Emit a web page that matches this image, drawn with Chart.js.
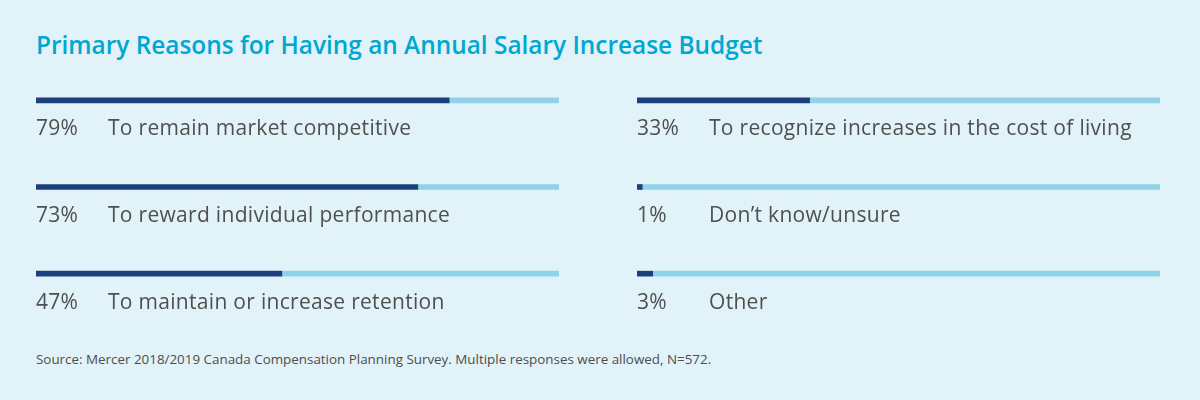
<!DOCTYPE html>
<html>
<head>
<meta charset="utf-8">
<script src="https://cdn.jsdelivr.net/npm/chart.js@4/dist/chart.umd.min.js"></script>
<style>
  html, body { margin: 0; padding: 0; }
  body { width: 1200px; height: 400px; background: #e1f3f8; position: relative; overflow: hidden; font-family: "Open Sans", sans-serif; }
  #title { position: absolute; left: 36px; top: 28px; margin: 0; font-size: 24.4px; font-weight: 600; color: #00a7d3; white-space: nowrap; line-height: normal; }
  #source { position: absolute; left: 36px; top: 350px; font-size: 13.4px; color: #4d4d4d; white-space: nowrap; line-height: normal; }
  .col { position: absolute; top: 57px; height: 260px; }
  #colL { left: 36px; width: 523px; }
  #colR { left: 637px; width: 523px; }
</style>
</head>
<body>
<h1 id="title">Primary Reasons for Having an Annual Salary Increase Budget</h1>
<div class="col" id="colL"><canvas id="chartL"></canvas></div>
<div class="col" id="colR"><canvas id="chartR"></canvas></div>
<div id="source">Source: Mercer 2018/2019 Canada Compensation Planning Survey. Multiple responses were allowed, N=572.</div>
<script>
const leftCategories = ["To remain market competitive", "To reward individual performance", "To maintain or increase retention"];
const leftValues = [79, 73, 47];
const rightCategories = ["To recognize increases in the cost of living", "Don\u2019t know/unsure", "Other"];
const rightValues = [33, 1, 3];
const totalValue = 100;

const DARK = "#1d3f7e";
const LIGHT = "#8fd2ea";
const TEXT = "#4f4f4f";

const labelPlugin = {
  id: "rowLabels",
  afterDatasetsDraw(chart) {
    const ctx = chart.ctx;
    const meta = chart.getDatasetMeta(0);
    const area = chart.chartArea;
    ctx.save();
    ctx.fillStyle = TEXT;
    ctx.font = '400 21px "Open Sans", sans-serif';
    if ("letterSpacing" in ctx) ctx.letterSpacing = "0.3px";
    ctx.textBaseline = "alphabetic";
    ctx.textAlign = "left";
    meta.data.forEach((bar, i) => {
      const y = bar.y + 35;
      ctx.fillText(chart.data.datasets[0].data[i] + "%", area.left, y);
      ctx.fillText(chart.data.labels[i], area.left + 72, y);
    });
    ctx.restore();
  }
};

function makeChart(id, cats, vals) {
  return new Chart(document.getElementById(id), {
    type: "bar",
    data: {
      labels: cats,
      datasets: [
        { data: vals, backgroundColor: DARK, barThickness: 5, borderWidth: 0 },
        { data: vals.map(v => totalValue - v), backgroundColor: LIGHT, barThickness: 5, borderWidth: 0 }
      ]
    },
    options: {
      indexAxis: "y",
      responsive: true,
      maintainAspectRatio: false,
      animation: false,
      devicePixelRatio: 1,
      layout: { padding: 0 },
      plugins: { legend: { display: false }, tooltip: { enabled: false }, title: { display: false } },
      scales: {
        x: { stacked: true, min: 0, max: totalValue, display: false },
        y: { stacked: true, display: false, offset: true }
      }
    },
    plugins: [labelPlugin]
  });
}

makeChart("chartL", leftCategories, leftValues);
makeChart("chartR", rightCategories, rightValues);
</script>
</body>
</html>
